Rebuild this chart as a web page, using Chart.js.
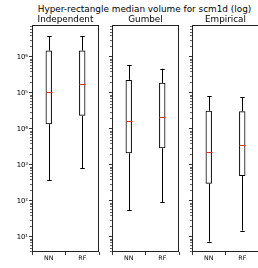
<!DOCTYPE html>
<html>
<head>
<meta charset="utf-8">
<script src="https://cdn.jsdelivr.net/npm/chart.js@4.4.1/dist/chart.umd.min.js"></script>
<style>
  body { margin: 0; background: #fff; font-family: "DejaVu Sans", sans-serif; }
  #wrap { position: relative; width: 258px; height: 268px; overflow: hidden; }
  canvas { position: absolute; top: 0; }
  .title { position: absolute; white-space: nowrap; color: #000; transform: translateX(-50%); line-height: 1; }
</style>
</head>
<body>
<div id="wrap">
  <div class="title" id="mainTitle" style="left:144.5px; top:5px; font-size:8.9px;">Hyper-rectangle median volume for scm1d (log)</div>
</div>
<script>
const categories = ["NN", "RF"];
const panelTitles = ["Independent", "Gumbel", "Empirical"];

// one entry per panel, one value per category
const whiskerLow = [[380, 800], [56, 92], [7.4, 15]];
const boxLow = [[1.35e4, 2.3e4], [2.1e3, 2.9e3], [300, 490]];
const medians = [[1.07e5, 1.75e5], [1.66e4, 2.1e4], [2.3e3, 3.5e3]];
const boxHigh = [[1.5e6, 1.5e6], [2.3e5, 1.9e5], [3.2e4, 3.1e4]];
const whiskerHigh = [[3.8e6, 3.8e6], [5.9e5, 4.7e5], [8.0e4, 7.6e4]];

const yMin = 3.8;
const yMax = 7.7e6;

const panelLefts = [32, 112, 192];
const axisWidth = 32;
const panelWidth = 67;

const wrap = document.getElementById("wrap");

function superscript(n) {
  const map = { "0": "⁰", "1": "¹", "2": "²", "3": "³", "4": "⁴", "5": "⁵", "6": "⁶", "7": "⁷", "8": "⁸", "9": "⁹" };
  return String(n).split("").map((c) => map[c]).join("");
}

function isPow10(v) {
  const l = Math.log10(v);
  return Math.abs(l - Math.round(l)) < 1e-9;
}

function buildLogTicks(scale) {
  const ticks = [];
  for (let k = 0; k <= 7; k++) {
    for (let m = 1; m <= 9; m++) {
      const v = m * Math.pow(10, k);
      if (v >= yMin && v <= yMax) ticks.push({ value: v, major: m === 1 });
    }
  }
  scale.ticks = ticks;
}

// whiskers, caps, medians and the frame round the plot area
const boxPlotExtras = {
  id: "boxPlotExtras",
  afterDatasetsDraw(chart) {
    const p = chart.options.plugins.boxPlotExtras.panel;
    const ctx = chart.ctx;
    const x = chart.scales.x;
    const y = chart.scales.y;
    const meta = chart.getDatasetMeta(0);
    ctx.save();
    categories.forEach((c, i) => {
      const cx = Math.round(x.getPixelForValue(i)) + 0.5;
      const bw = meta.data[i].width;
      const capW = bw * 0.7;
      ctx.strokeStyle = "#000";
      ctx.lineWidth = 1;
      ctx.beginPath();
      ctx.moveTo(cx, y.getPixelForValue(boxHigh[p][i]));
      ctx.lineTo(cx, y.getPixelForValue(whiskerHigh[p][i]));
      ctx.moveTo(cx, y.getPixelForValue(boxLow[p][i]));
      ctx.lineTo(cx, y.getPixelForValue(whiskerLow[p][i]));
      const top = Math.round(y.getPixelForValue(whiskerHigh[p][i])) + 0.5;
      const bot = Math.round(y.getPixelForValue(whiskerLow[p][i])) + 0.5;
      ctx.moveTo(cx - capW / 2, top);
      ctx.lineTo(cx + capW / 2, top);
      ctx.moveTo(cx - capW / 2, bot);
      ctx.lineTo(cx + capW / 2, bot);
      ctx.stroke();

      const my = Math.round(y.getPixelForValue(medians[p][i])) + 0.5;
      ctx.strokeStyle = "#d9302c";
      ctx.beginPath();
      ctx.moveTo(cx - bw / 2, my);
      ctx.lineTo(cx + bw / 2, my);
      ctx.stroke();
    });

    // minor ticks on the y axis
    ctx.strokeStyle = "#000";
    ctx.lineWidth = 0.6;
    ctx.beginPath();
    y.ticks.forEach((t) => {
      if (t.major) return;
      const ty = Math.round(y.getPixelForValue(t.value)) + 0.5;
      ctx.moveTo(chart.chartArea.left - 2, ty);
      ctx.lineTo(chart.chartArea.left, ty);
    });
    ctx.stroke();

    const a = chart.chartArea;
    ctx.strokeStyle = "#222";
    ctx.lineWidth = 1;
    ctx.strokeRect(Math.round(a.left) + 0.5, Math.round(a.top) + 0.5, Math.round(a.right - a.left) - 1, Math.round(a.bottom - a.top) - 1);
    ctx.restore();
  },
};

panelLefts.forEach((left, p) => {
  const canvas = document.createElement("canvas");
  canvas.width = axisWidth + panelWidth + 3;
  canvas.height = 268;
  canvas.style.left = left - axisWidth + "px";
  wrap.appendChild(canvas);

  const sub = document.createElement("div");
  sub.className = "title";
  sub.style.left = left + panelWidth / 2 + "px";
  sub.style.top = "15px";
  sub.style.fontSize = "8.8px";
  sub.textContent = panelTitles[p];
  wrap.appendChild(sub);

  new Chart(canvas.getContext("2d"), {
    type: "bar",
    data: {
      labels: categories,
      datasets: [
        {
          data: categories.map((c, i) => [boxLow[p][i], boxHigh[p][i]]),
          backgroundColor: "rgba(0,0,0,0)",
          borderColor: "#000",
          borderWidth: 1,
          borderSkipped: false,
          barPercentage: 0.19,
          categoryPercentage: 1,
        },
      ],
    },
    options: {
      responsive: false,
      animation: false,
      devicePixelRatio: 1,
      layout: { padding: { top: 25, right: 3, left: 0, bottom: 0 } },
      plugins: {
        legend: { display: false },
        tooltip: { enabled: false },
        boxPlotExtras: { panel: p },
      },
      scales: {
        x: {
          offset: true,
          border: { display: false },
          grid: { drawOnChartArea: false, drawTicks: true, tickLength: 3, tickColor: "#000", tickWidth: 0.8 },
          ticks: { color: "#000", font: { family: "DejaVu Sans", size: 6.3 }, padding: 0, maxRotation: 0 },
          afterFit(scale) {
            scale.height = 16;
          },
        },
        y: {
          type: "logarithmic",
          min: yMin,
          max: yMax,
          border: { display: false },
          grid: {
            drawOnChartArea: false,
            drawTicks: true,
            tickLength: 3,
            tickColor: (ctx) => (ctx.tick && ctx.tick.major ? "#000" : "rgba(0,0,0,0)"),
            tickWidth: 0.8,
          },
          afterBuildTicks: buildLogTicks,
          ticks: {
            display: p === 0,
            autoSkip: false,
            padding: 1,
            color: "#000",
            font: { family: "DejaVu Sans", size: 6.8 },
            callback: (value) => (isPow10(value) ? "10" + superscript(Math.round(Math.log10(value))) : ""),
          },
          afterFit(scale) {
            scale.width = axisWidth;
          },
        },
      },
    },
    plugins: [boxPlotExtras],
  });
});
</script>
</body>
</html>
